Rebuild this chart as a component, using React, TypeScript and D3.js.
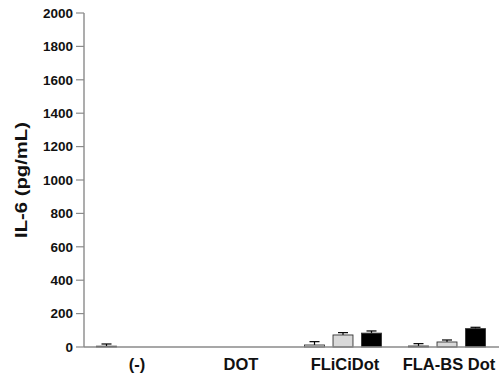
import * as d3 from "d3";

const WIDTH = 499;
const HEIGHT = 373;

const categories = ["(-)", "DOT", "FLiCiDot", "FLA-BS Dot"];
const seriesNames = ["s1", "s2", "s3"];
// mean values per category, one array per series
const series1 = [5, 0, 12, 6];
const series2 = [0, 0, 72, 30];
const series3 = [0, 0, 83, 110];
// upper end of the error bar
const err1 = [18, 0, 32, 20];
const err2 = [0, 0, 86, 42];
const err3 = [0, 0, 96, 118];
const yTicks = [0, 200, 400, 600, 800, 1000, 1200, 1400, 1600, 1800, 2000];
const fills = ["#efefef", "#d9d9d9", "#000000"];

const values = [series1, series2, series3];
const errs = [err1, err2, err3];

export default function App() {
    const margin = { top: 13, left: 84, bottom: 26 };
    const x = d3.scaleBand<string>().domain(categories).range([margin.left - 1, WIDTH]).padding(0);
    const y = d3.scaleLinear().domain([0, 2000]).range([HEIGHT - margin.bottom, margin.top]);
    const inner = d3.scaleBand<string>().domain(seriesNames).range([-42.75, 42.75]).paddingInner(0.3).paddingOuter(0.15);
    const bw = inner.bandwidth();
    const axisColor = "#8a8a8a";
    const y0 = y(0);

    return (
        <svg width={WIDTH} height={HEIGHT} style={{ position: "absolute", left: 0, top: 0 }} fontFamily="Liberation Sans, Arial, sans-serif">
            <rect width={WIDTH} height={HEIGHT} fill="#fff" />
            {categories.map((c, ci) => {
                const cx = (x(c) ?? 0) + x.bandwidth() / 2;
                return (
                    <g key={c}>
                        {seriesNames.map((s, si) => {
                            const v = values[si][ci];
                            const e = errs[si][ci];
                            if (v <= 0 && e <= 0) return null;
                            const bx = cx + (inner(s) ?? 0);
                            const mid = bx + bw / 2;
                            return (
                                <g key={s}>
                                    <line x1={mid} x2={mid} y1={y(v)} y2={y(e)} stroke="#000" strokeWidth={1.2} />
                                    <line x1={mid - 5} x2={mid + 5} y1={y(e)} y2={y(e)} stroke="#000" strokeWidth={1.2} />
                                    <rect x={bx} y={y(v)} width={bw} height={y0 - y(v)} fill={fills[si]} stroke="#333" strokeWidth={0.9} />
                                </g>
                            );
                        })}
                        <text x={cx + 2} y={370} textAnchor="middle" fontSize={16.5} fontWeight="bold" fill="#111">
                            {c}
                        </text>
                    </g>
                );
            })}
            <line x1={margin.left} x2={margin.left} y1={y(2000)} y2={y0} stroke={axisColor} strokeWidth={1.4} />
            <line x1={margin.left} x2={WIDTH} y1={y0} y2={y0} stroke={axisColor} strokeWidth={1.4} />
            {yTicks.map((t) => (
                <g key={t} transform={`translate(0,${y(t)})`}>
                    <line x1={margin.left - 8} x2={margin.left} stroke={axisColor} strokeWidth={1.2} />
                    <text x={margin.left - 11} dy="0.36em" textAnchor="end" fontSize={13.5} fontWeight="bold" fill="#111">
                        {t}
                    </text>
                </g>
            ))}
            <text
                transform={`translate(27,180) rotate(-90)`}
                textAnchor="middle"
                fontSize={16}
                fontWeight="bold"
                fill="#111"
                textLength={116}
                lengthAdjust="spacingAndGlyphs"
            >
                IL-6 (pg/mL)
            </text>
        </svg>
    );
}
